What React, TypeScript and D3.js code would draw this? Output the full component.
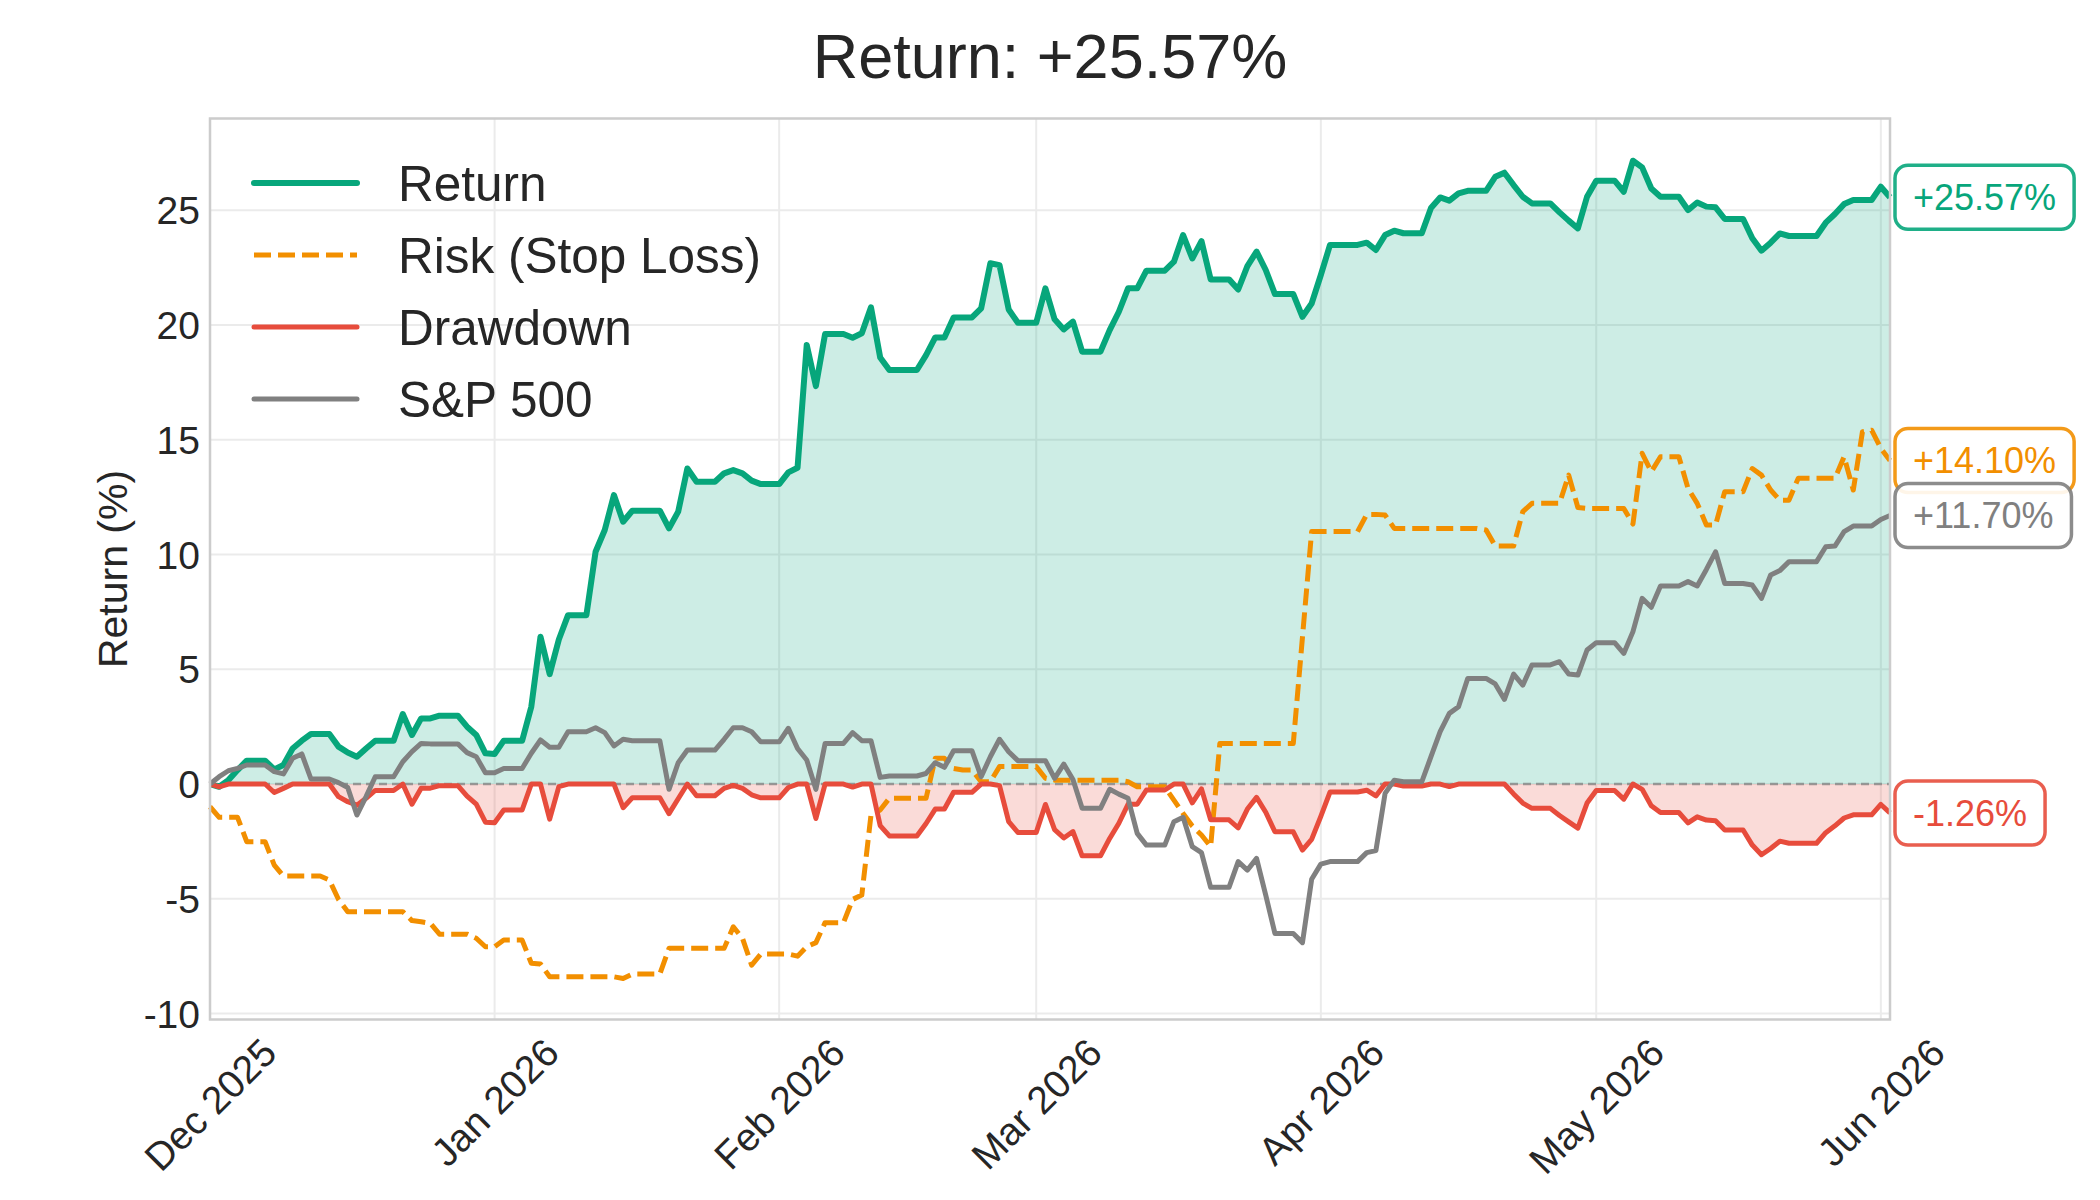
import * as d3 from 'd3'

// one value per calendar day, Mon 1 Dec 2025 .. Tue 2 Jun 2026 (weekends held flat)
const firstDay = new Date(2025, 11, 1)
const lastDay = new Date(2026, 5, 2)
const days = d3.timeDay.range(firstDay, d3.timeDay.offset(lastDay, 1))

const strategyReturn = [
  0.00, -0.12, 0.17, 0.61, 1.02, 1.02, 1.02,
  0.64, 0.83, 1.55, 1.89, 2.18, 2.18, 2.18,
  1.63, 1.37, 1.19, 1.55, 1.89, 1.89, 1.89,
  3.05, 2.14, 2.86, 2.86, 2.98, 2.98, 2.98,
  2.50, 2.14, 1.34, 1.31, 1.89, 1.89, 1.89,
  3.37, 6.42, 4.79, 6.30, 7.36, 7.36, 7.36,
  10.12, 11.07, 12.59, 11.43, 11.91, 11.91, 11.91,
  11.91, 11.14, 11.87, 13.75, 13.17, 13.17, 13.17,
  13.54, 13.68, 13.54, 13.22, 13.07, 13.07, 13.07,
  13.58, 13.78, 19.13, 17.34, 19.61, 19.61, 19.61,
  19.45, 19.64, 20.77, 18.59, 18.04, 18.04, 18.04,
  18.04, 18.69, 19.46, 19.46, 20.33, 20.33, 20.33,
  20.73, 22.69, 22.61, 20.68, 20.10, 20.10, 20.10,
  21.60, 20.25, 19.81, 20.15, 18.84, 18.84, 18.84,
  19.78, 20.58, 21.60, 21.60, 22.37, 22.37, 22.37,
  22.76, 23.92, 22.90, 23.66, 21.99, 21.99, 21.99,
  21.55, 22.57, 23.20, 22.40, 21.35, 21.35, 21.35,
  20.36, 20.94, 22.18, 23.49, 23.49, 23.49, 23.49,
  23.59, 23.27, 23.92, 24.11, 24.00, 24.00, 24.00,
  25.10, 25.56, 25.42, 25.74, 25.85, 25.85, 25.85,
  26.46, 26.64, 26.10, 25.59, 25.30, 25.30, 25.30,
  24.91, 24.55, 24.21, 25.59, 26.29, 26.29, 26.29,
  25.81, 27.16, 26.87, 25.95, 25.59, 25.59, 25.59,
  25.01, 25.34, 25.16, 25.13, 24.62, 24.62, 24.62,
  23.78, 23.24, 23.59, 23.99, 23.88, 23.88, 23.88,
  23.88, 24.46, 24.84, 25.27, 25.45, 25.45, 25.45,
  26.03, 25.57,
]

const riskStopLoss = [
  -0.99, -1.45, -1.45, -1.45, -2.51, -2.51, -2.51,
  -3.53, -4.01, -4.01, -4.01, -4.01, -4.01, -4.18,
  -5.03, -5.56, -5.56, -5.56, -5.56, -5.56, -5.56,
  -5.56, -5.95, -6.00, -6.07, -6.54, -6.54, -6.54,
  -6.54, -6.72, -7.09, -7.09, -6.80, -6.80, -6.80,
  -7.81, -7.84, -8.40, -8.40, -8.40, -8.40, -8.40,
  -8.40, -8.40, -8.40, -8.47, -8.28, -8.28, -8.28,
  -8.28, -7.16, -7.16, -7.16, -7.16, -7.16, -7.16,
  -7.16, -6.22, -6.72, -7.89, -7.41, -7.41, -7.41,
  -7.41, -7.50, -7.09, -6.91, -6.04, -6.04, -6.04,
  -5.03, -4.84, -1.35, -1.13, -0.62, -0.62, -0.62,
  -0.62, -0.62, 1.12, 1.12, 0.68, 0.61, 0.61,
  0.10, 0.10, 0.76, 0.76, 0.76, 0.76, 0.76,
  0.25, 0.17, 0.17, 0.17, 0.17, 0.17, 0.17,
  0.17, 0.17, 0.10, -0.12, -0.12, -0.12, -0.12,
  -0.70, -1.28, -1.83, -2.22, -2.73, 1.77, 1.77,
  1.77, 1.77, 1.77, 1.77, 1.77, 1.77, 1.77,
  6.40, 11.00, 11.00, 11.00, 11.00, 11.00, 11.00,
  11.75, 11.75, 11.72, 11.14, 11.14, 11.14, 11.14,
  11.14, 11.14, 11.14, 11.14, 11.14, 11.14, 11.07,
  10.37, 10.37, 10.37, 11.87, 12.23, 12.23, 12.23,
  12.23, 13.46, 12.05, 12.01, 12.01, 12.01, 12.01,
  12.01, 11.33, 14.41, 13.61, 14.26, 14.26, 14.26,
  12.88, 12.23, 11.29, 11.29, 12.74, 12.74, 12.74,
  13.75, 13.46, 12.81, 12.37, 12.37, 13.32, 13.32,
  13.32, 13.32, 13.32, 14.26, 12.81, 15.35, 15.42,
  14.63, 14.10,
]

const drawdown = [
  0, -0.12, 0, 0, 0, 0, 0,
  -0.37, -0.19, 0, 0, 0, 0, 0,
  -0.55, -0.77, -0.92, -0.62, -0.28, -0.28, -0.28,
  0, -0.88, -0.18, -0.18, -0.07, -0.07, -0.07,
  -0.53, -0.88, -1.66, -1.69, -1.13, -1.13, -1.13,
  0, 0, -1.53, -0.11, 0, 0, 0,
  0, 0, 0, -1.03, -0.60, -0.60, -0.60,
  -0.60, -1.29, -0.64, 0, -0.51, -0.51, -0.51,
  -0.19, -0.06, -0.19, -0.47, -0.60, -0.60, -0.60,
  -0.15, 0, 0, -1.50, 0, 0, 0,
  -0.13, 0, 0, -1.81, -2.26, -2.26, -2.26,
  -2.26, -1.72, -1.09, -1.09, -0.36, -0.36, -0.36,
  0, 0, -0.07, -1.64, -2.11, -2.11, -2.11,
  -0.89, -1.99, -2.35, -2.07, -3.13, -3.13, -3.13,
  -2.37, -1.71, -0.88, -0.88, -0.26, -0.26, -0.26,
  0, 0, -0.82, -0.21, -1.56, -1.56, -1.56,
  -1.91, -1.09, -0.58, -1.23, -2.08, -2.08, -2.08,
  -2.88, -2.41, -1.41, -0.35, -0.35, -0.35, -0.35,
  -0.27, -0.52, 0, 0, -0.09, -0.09, -0.09,
  0, 0, -0.11, 0, 0, 0, 0,
  0, 0, -0.43, -0.83, -1.06, -1.06, -1.06,
  -1.37, -1.65, -1.92, -0.83, -0.28, -0.28, -0.28,
  -0.66, 0, -0.23, -0.95, -1.24, -1.24, -1.24,
  -1.69, -1.43, -1.57, -1.60, -2.00, -2.00, -2.00,
  -2.66, -3.08, -2.81, -2.49, -2.58, -2.58, -2.58,
  -2.58, -2.12, -1.82, -1.48, -1.34, -1.34, -1.34,
  -0.89, -1.26,
]

const sp500 = [
  0.00, 0.32, 0.58, 0.68, 0.83, 0.83, 0.83,
  0.54, 0.44, 1.12, 1.31, 0.22, 0.22, 0.22,
  0.06, -0.15, -1.35, -0.55, 0.32, 0.32, 0.32,
  0.97, 1.41, 1.77, 1.75, 1.75, 1.75, 1.75,
  1.37, 1.19, 0.49, 0.49, 0.68, 0.68, 0.68,
  1.34, 1.92, 1.60, 1.60, 2.28, 2.28, 2.28,
  2.45, 2.24, 1.66, 1.95, 1.89, 1.89, 1.89,
  1.89, -0.23, 0.93, 1.48, 1.48, 1.48, 1.48,
  1.95, 2.45, 2.45, 2.28, 1.84, 1.84, 1.84,
  2.43, 1.55, 1.05, -0.23, 1.77, 1.77, 1.77,
  2.24, 1.89, 1.89, 0.29, 0.35, 0.35, 0.35,
  0.35, 0.46, 0.93, 0.73, 1.45, 1.45, 1.45,
  0.32, 1.19, 1.95, 1.41, 1.02, 1.02, 1.02,
  1.02, 0.25, 0.87, 0.20, -1.06, -1.06, -1.06,
  -0.23, -0.44, -0.62, -2.15, -2.66, -2.66, -2.66,
  -1.64, -1.45, -2.73, -2.99, -4.50, -4.50, -4.50,
  -3.38, -3.75, -3.24, -4.84, -6.51, -6.51, -6.51,
  -6.91, -4.15, -3.49, -3.38, -3.38, -3.38, -3.38,
  -2.99, -2.90, -0.41, 0.17, 0.10, 0.10, 0.10,
  1.19, 2.28, 3.08, 3.37, 4.60, 4.60, 4.60,
  4.36, 3.69, 4.79, 4.31, 5.19, 5.19, 5.19,
  5.33, 4.79, 4.75, 5.84, 6.16, 6.16, 6.16,
  5.69, 6.64, 8.09, 7.70, 8.63, 8.63, 8.63,
  8.82, 8.63, 9.35, 10.12, 8.74, 8.74, 8.74,
  8.67, 8.09, 9.11, 9.30, 9.69, 9.69, 9.69,
  9.69, 10.34, 10.37, 11.00, 11.24, 11.24, 11.24,
  11.53, 11.70,
]

const yTicks = [-10, -5, 0, 5, 10, 15, 20, 25]

const series = [
  {name: 'Return', values: strategyReturn, color: '#07a67b', width: 6, dash: null},
  {name: 'Risk (Stop Loss)', values: riskStopLoss, color: '#f28f00', width: 5, dash: '17 7'},
  {name: 'Drawdown', values: drawdown, color: '#e74c3c', width: 5, dash: null},
  {name: 'S&P 500', values: sp500, color: '#808080', width: 5, dash: null},
]

const FONT = '"Liberation Sans", Arial, "DejaVu Sans", sans-serif'
const INK = '#262626'

const measureCtx = document.createElement('canvas').getContext('2d')!
const textWidth = (text: string, size: number) => {
  measureCtx.font = `${size}px ${FONT}`
  return measureCtx.measureText(text).width
}

// plain hyphen for negatives, like the original
const signed = (v: number) => `${d3.format('+.2f')(v).replace('\u2212', '-')}%`

export default function App() {
  const width = 2100
  const height = 1200
  const marginLeft = 210
  const marginRight = 210
  const marginTop = 118.5
  const marginBottom = 180.5

  const x = d3.scaleTime([days[0], days[days.length - 1]], [marginLeft, width - marginRight])
  const y = d3.scaleLinear([-10.26, 29.0], [height - marginBottom, marginTop])
  const monthTicks = d3.timeMonth.range(firstDay, d3.timeDay.offset(lastDay, 1))
  const fmtMonth = d3.timeFormat('%b %Y')

  const lineOf = (values: number[]) =>
    d3.line<number>().x((_, i) => x(days[i])).y(v => y(v))(values) || ''
  const areaOf = (values: number[]) =>
    d3.area<number>().x((_, i) => x(days[i])).y0(y(0)).y1(v => y(v))(values) || ''

  const axisBottom = height - marginBottom
  const tickFont = 39
  const labelFont = 36
  const legendFont = 49.5

  // end-of-series tags, drawn in this order so the grey one sits over the orange one
  const tags = series.map(s => {
    const v = s.values[s.values.length - 1]
    const text = signed(v)
    return {text, v, color: s.color, w: textWidth(text, labelFont) + 36}
  })

  return (
    <svg width={width} height={height} style={{position: 'absolute', left: 0, top: 0}}
         fontFamily={FONT}>
      <rect width={width} height={height} fill="#ffffff"/>

      {/* grid */}
      {yTicks.map(t => (
        <line key={'gy' + t} x1={marginLeft} x2={width - marginRight} y1={y(t)} y2={y(t)}
              stroke="#ebebeb" strokeWidth={2}/>
      ))}
      {monthTicks.map(t => (
        <line key={'gx' + t.getTime()} x1={x(t)} x2={x(t)} y1={marginTop} y2={axisBottom}
              stroke="#ebebeb" strokeWidth={2}/>
      ))}

      {/* fills */}
      <path d={areaOf(strategyReturn)} fill="#07a67b" fillOpacity={0.2}/>
      <path d={areaOf(drawdown)} fill="#e74c3c" fillOpacity={0.2}/>

      {/* zero line */}
      <line x1={marginLeft} x2={width - marginRight} y1={y(0)} y2={y(0)}
            stroke="#808080" strokeOpacity={0.75} strokeWidth={2.5} strokeDasharray="8 5"/>

      {series.map(s => (
        <path key={s.name} d={lineOf(s.values)} fill="none" stroke={s.color}
              strokeWidth={s.width} strokeLinejoin="round"
              strokeDasharray={s.dash || undefined}/>
      ))}

      {/* frame */}
      <rect x={marginLeft} y={marginTop} width={width - marginLeft - marginRight}
            height={axisBottom - marginTop} fill="none" stroke="#cccccc" strokeWidth={2.5}/>

      {/* y ticks */}
      {yTicks.map(t => (
        <text key={'ty' + t} x={marginLeft - 10} y={y(t)} dy="0.36em" textAnchor="end"
              fontSize={tickFont} fill={INK}>{t}</text>
      ))}

      {/* x ticks, rotated 45deg and centred under the tick */}
      {monthTicks.map(t => {
        const label = fmtMonth(t)
        const w = textWidth(label, tickFont)
        const cx = x(t)
        const cy = axisBottom + 12 + (w + tickFont) * 0.3536
        return (
          <text key={'tx' + t.getTime()} x={cx} y={cy} dy="0.36em" textAnchor="middle"
                fontSize={tickFont} fill={INK} transform={`rotate(-45 ${cx} ${cy})`}>{label}</text>
        )
      })}

      <text x={112} y={(marginTop + axisBottom) / 2} dy="0.36em" textAnchor="middle" fontSize={41}
            fill={INK} transform={`rotate(-90 112 ${(marginTop + axisBottom) / 2})`}>Return (%)</text>

      <text x={(marginLeft + width - marginRight) / 2} y={78} textAnchor="middle" fontSize={63}
            fill={INK}>{`Return: ${signed(strategyReturn[strategyReturn.length - 1])}`}</text>

      {/* legend */}
      {series.map((s, i) => {
        const ly = 183 + i * 72
        return (
          <g key={'lg' + s.name}>
            <line x1={254} x2={357} y1={ly} y2={ly} stroke={s.color} strokeWidth={s.width}
                  strokeLinecap={s.dash ? 'butt' : 'round'} strokeDasharray={s.dash || undefined}/>
            <text x={398} y={ly} dy="0.36em" fontSize={legendFont} fill={INK}>{s.name}</text>
          </g>
        )
      })}

      {/* value tags */}
      {tags.map(t => {
        const cy = y(t.v)
        return (
          <g key={'tag' + t.text}>
            <rect x={1895} y={cy - 32} width={t.w} height={64} rx={13} fill="#ffffff"
                  fillOpacity={0.9} stroke={t.color} strokeOpacity={0.9} strokeWidth={3.5}/>
            <text x={1913} y={cy} dy="0.36em" fontSize={labelFont} fill={t.color}>{t.text}</text>
          </g>
        )
      })}
    </svg>
  )
}
